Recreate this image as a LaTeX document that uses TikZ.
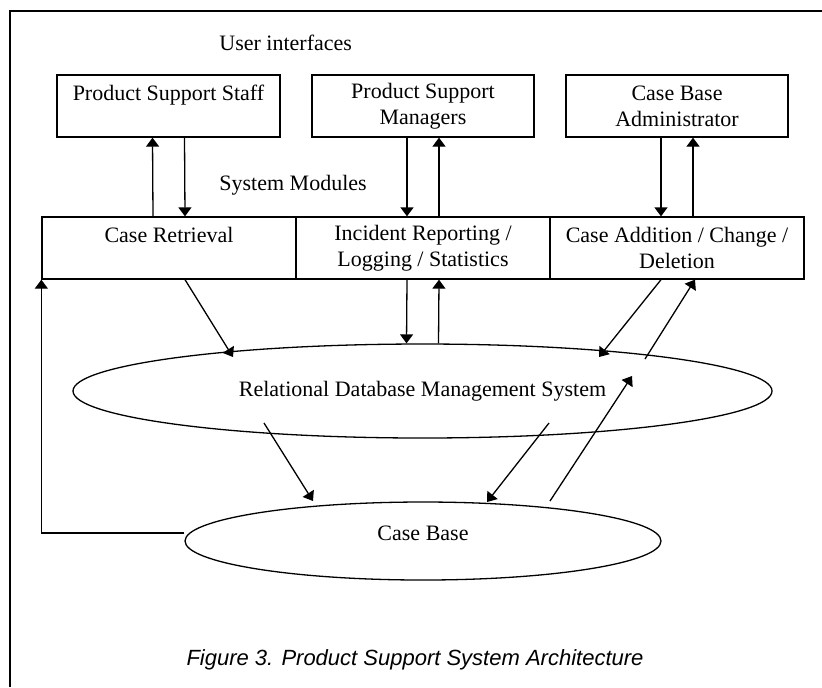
\documentclass[tikz,border=0pt]{standalone}
\usepackage{fontspec}
\setmainfont{Liberation Serif}
\newfontfamily\capfont{Liberation Sans}
\usetikzlibrary{arrows.meta,shapes.geometric}
\tikzset{
	box/.style={draw,line width=0.65pt,align=center,inner sep=0pt,minimum width=#1,minimum height=31pt},
	oval/.style={draw,ellipse,line width=0.65pt,inner sep=0pt},
	arr/.style={line width=0.65pt,-{Triangle[width=6.5pt,length=4.5pt]}},
	lbl/.style={anchor=west,inner sep=0pt}
}
\begin{document}
\begin{tikzpicture}[x=0.5pt,y=-0.5pt,font=\fontsize{11}{13}\selectfont]%architecture
		\useasboundingbox (0,0) rectangle (822,687);
		\draw[line width=0.8pt] (10,687)--(10,11)--(822,11);
		\node[lbl] (ui) at (219,43) {User interfaces};
		\node[lbl] (sm) at (219,185) {System Modules};
		\node[box=111.5pt] (staff) at (168.5,106) {Product Support Staff\\~};
		\node[box=111pt] (managers) at (423,106) {Product Support\\Managers};
		\node[box=111pt] (admin) at (677,106) {Case Base\\Administrator};
		\node[box=127pt] (retrieval) at (169,248) {Case Retrieval\\~};
		\node[box=127pt] (incident) at (423,248) {Incident Reporting /\\Logging / Statistics};
		\node[box=127pt] (addition) at (677,248) {Case Addition / Change /\\Deletion};
		\node[oval,minimum width=349.5pt,minimum height=47pt] (rdbms) at (422.5,391) {Relational Database Management System};
		\node[oval,minimum width=238pt,minimum height=39pt,text depth=8pt] (cb) at (423,541) {Case Base};
		\node[font=\capfont\itshape\fontsize{11}{13}\selectfont] (caption) at (415,660) {Figure 3. Product Support System Architecture};
		% user interfaces <-> modules
		\draw[arr] ([xshift=-8pt]retrieval.north)--([xshift=-8pt]staff.south);
		\draw[arr] ([xshift=8pt]staff.south)--([xshift=8pt]retrieval.north);
		\draw[arr] ([xshift=-8pt]managers.south)--([xshift=-8pt]incident.north);
		\draw[arr] ([xshift=8pt]incident.north)--([xshift=8pt]managers.south);
		\draw[arr] ([xshift=-8pt]admin.south)--([xshift=-8pt]addition.north);
		\draw[arr] ([xshift=8pt]addition.north)--([xshift=8pt]admin.south);
		% modules <-> database
		\draw[arr] ([xshift=-8pt]incident.south)--([xshift=-8pt]rdbms.north);
		\draw[arr] ([xshift=8pt]rdbms.north)--([xshift=8pt]incident.south);
		\draw[arr] ([shift={(16,0)}]retrieval.south)--([shift={(-189.5,-34)}]rdbms.center);
		\draw[arr] ([shift={(-16,0)}]addition.south)--([shift={(176.5,-34)}]rdbms.center);
		\draw[arr] ([shift={(222.5,-32)}]rdbms.center)--([shift={(18,0)}]addition.south);
		% database <-> case base
		\draw[arr] ([shift={(-158.5,32)}]rdbms.center)--([shift={(-110,-40)}]cb.center);
		\draw[arr] ([shift={(126.5,32)}]rdbms.center)--([shift={(64,-39)}]cb.center);
		\draw[arr] ([shift={(127,-40)}]cb.center)--([shift={(209.5,-15)}]rdbms.center);
		\draw[arr] ([shift={(0,-8)}]cb.west)-|(retrieval.south west);
		\end{tikzpicture}
\end{document}
